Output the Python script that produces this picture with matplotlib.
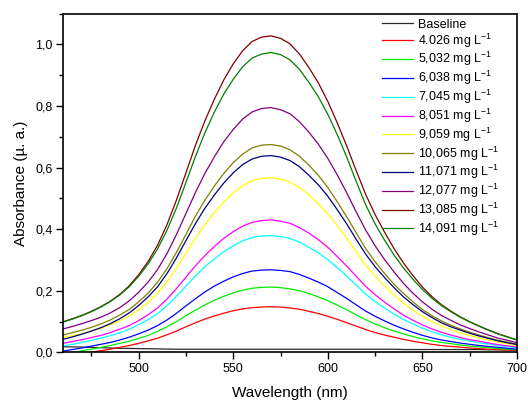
import matplotlib
matplotlib.use('Agg')
import matplotlib.pyplot as plt
from matplotlib.ticker import MultipleLocator, FuncFormatter

plt.rcParams['font.family'] = ['Liberation Sans', 'DejaVu Sans']
plt.rcParams['mathtext.fontset'] = 'custom'
plt.rcParams['mathtext.rm'] = 'Liberation Sans'
plt.rcParams['mathtext.it'] = 'Liberation Sans:italic'
plt.rcParams['mathtext.bf'] = 'Liberation Sans:bold'

wavelength = list(range(460, 705, 5))

baseline = [0.018, 0.0175, 0.017, 0.016, 0.015, 0.014, 0.013, 0.0125, 0.012, 0.0115, 0.011, 0.0105,
            0.010, 0.010, 0.010, 0.010, 0.010, 0.010, 0.010, 0.010, 0.010, 0.010, 0.010, 0.010,
            0.010, 0.010, 0.010, 0.010, 0.010, 0.010, 0.010, 0.010, 0.010, 0.010, 0.010, 0.010,
            0.009, 0.009, 0.009, 0.009, 0.009, 0.009, 0.009, 0.009, 0.009,
            0.008, 0.008, 0.008, 0.008]
c4026 = [-0.012, -0.008, -0.004, 0.001, 0.005, 0.010, 0.016, 0.022, 0.029, 0.037, 0.046, 0.057,
         0.069, 0.083, 0.096, 0.108, 0.118, 0.127, 0.135, 0.141, 0.145, 0.147, 0.148, 0.147,
         0.144, 0.140, 0.133, 0.126, 0.117, 0.107, 0.096, 0.085, 0.074, 0.064, 0.056, 0.049,
         0.042, 0.036, 0.031, 0.026, 0.022, 0.019, 0.017, 0.014, 0.012, 0.010, 0.009, 0.007, 0.006]
c5032 = [-0.006, -0.001, 0.005, 0.010, 0.016, 0.022, 0.029, 0.036, 0.045, 0.055, 0.068, 0.083,
         0.100, 0.119, 0.137, 0.154, 0.169, 0.182, 0.193, 0.202, 0.208, 0.211, 0.212, 0.210,
         0.206, 0.200, 0.191, 0.180, 0.168, 0.153, 0.138, 0.122, 0.106, 0.092, 0.080, 0.069,
         0.060, 0.051, 0.044, 0.037, 0.032, 0.028, 0.024, 0.020, 0.018, 0.015, 0.012, 0.010, 0.008]
c6038 = [0.004, 0.009, 0.014, 0.020, 0.026, 0.032, 0.040, 0.049, 0.060, 0.072, 0.087, 0.105,
         0.127, 0.151, 0.174, 0.196, 0.215, 0.231, 0.245, 0.256, 0.264, 0.267, 0.268, 0.266,
         0.262, 0.253, 0.241, 0.228, 0.213, 0.194, 0.175, 0.154, 0.134, 0.117, 0.102, 0.088,
         0.076, 0.065, 0.055, 0.047, 0.040, 0.035, 0.030, 0.026, 0.022, 0.019, 0.016, 0.013, 0.010]
c7045 = [0.021, 0.026, 0.032, 0.039, 0.046, 0.054, 0.063, 0.075, 0.090, 0.106, 0.126, 0.152,
         0.182, 0.215, 0.248, 0.278, 0.303, 0.327, 0.346, 0.362, 0.373, 0.378, 0.379, 0.376,
         0.370, 0.358, 0.341, 0.323, 0.301, 0.275, 0.247, 0.218, 0.189, 0.165, 0.144, 0.124,
         0.107, 0.092, 0.078, 0.067, 0.057, 0.049, 0.042, 0.037, 0.031, 0.027, 0.022, 0.018, 0.015]
c8051 = [0.029, 0.035, 0.041, 0.048, 0.055, 0.064, 0.075, 0.087, 0.103, 0.122, 0.144, 0.173,
         0.207, 0.244, 0.281, 0.314, 0.344, 0.370, 0.392, 0.410, 0.422, 0.428, 0.430, 0.426,
         0.419, 0.405, 0.387, 0.366, 0.341, 0.311, 0.280, 0.247, 0.214, 0.187, 0.163, 0.141,
         0.121, 0.104, 0.089, 0.076, 0.065, 0.056, 0.048, 0.041, 0.036, 0.030, 0.025, 0.021, 0.017]
c9059 = [0.048, 0.054, 0.061, 0.069, 0.078, 0.089, 0.102, 0.118, 0.138, 0.162, 0.192, 0.229,
         0.273, 0.322, 0.371, 0.415, 0.454, 0.489, 0.517, 0.541, 0.558, 0.565, 0.567, 0.563,
         0.553, 0.535, 0.511, 0.483, 0.450, 0.411, 0.370, 0.326, 0.283, 0.247, 0.215, 0.186,
         0.160, 0.137, 0.117, 0.100, 0.086, 0.074, 0.063, 0.055, 0.047, 0.040, 0.033, 0.028, 0.022]
c10065 = [0.056, 0.064, 0.072, 0.081, 0.092, 0.105, 0.121, 0.139, 0.164, 0.192, 0.228, 0.272,
          0.325, 0.383, 0.442, 0.494, 0.540, 0.581, 0.616, 0.644, 0.664, 0.673, 0.675, 0.670,
          0.658, 0.637, 0.608, 0.575, 0.535, 0.489, 0.440, 0.388, 0.337, 0.294, 0.256, 0.221,
          0.191, 0.164, 0.139, 0.119, 0.102, 0.088, 0.076, 0.065, 0.056, 0.047, 0.039, 0.033, 0.026]
c11071 = [0.042, 0.050, 0.059, 0.069, 0.080, 0.093, 0.109, 0.128, 0.152, 0.180, 0.213, 0.256,
          0.307, 0.363, 0.418, 0.468, 0.511, 0.550, 0.583, 0.610, 0.628, 0.637, 0.639, 0.634,
          0.623, 0.603, 0.575, 0.544, 0.507, 0.463, 0.417, 0.367, 0.319, 0.278, 0.243, 0.210,
          0.180, 0.155, 0.132, 0.113, 0.096, 0.083, 0.072, 0.062, 0.053, 0.045, 0.037, 0.031, 0.025]
c12077 = [0.076, 0.084, 0.093, 0.103, 0.114, 0.128, 0.145, 0.167, 0.195, 0.228, 0.269, 0.321,
          0.383, 0.451, 0.519, 0.581, 0.635, 0.684, 0.724, 0.758, 0.781, 0.792, 0.795, 0.788,
          0.775, 0.749, 0.715, 0.676, 0.630, 0.576, 0.518, 0.456, 0.397, 0.346, 0.301, 0.261,
          0.224, 0.192, 0.164, 0.140, 0.120, 0.104, 0.089, 0.077, 0.066, 0.056, 0.046, 0.039, 0.031]
c13085 = [0.099, 0.109, 0.120, 0.133, 0.148, 0.166, 0.188, 0.216, 0.252, 0.295, 0.348, 0.415,
          0.495, 0.583, 0.672, 0.752, 0.822, 0.885, 0.937, 0.980, 1.010, 1.024, 1.028, 1.020,
          1.002, 0.969, 0.925, 0.875, 0.815, 0.745, 0.670, 0.590, 0.513, 0.447, 0.390, 0.337,
          0.290, 0.249, 0.212, 0.181, 0.155, 0.134, 0.115, 0.099, 0.085, 0.072, 0.060, 0.050, 0.040]
c14091 = [0.098, 0.108, 0.119, 0.132, 0.147, 0.165, 0.186, 0.213, 0.247, 0.287, 0.336, 0.397,
          0.469, 0.552, 0.636, 0.713, 0.780, 0.839, 0.887, 0.928, 0.956, 0.969, 0.974, 0.967,
          0.950, 0.919, 0.877, 0.830, 0.773, 0.707, 0.634, 0.555, 0.479, 0.417, 0.364, 0.316,
          0.274, 0.237, 0.204, 0.176, 0.152, 0.132, 0.114, 0.099, 0.085, 0.072, 0.060, 0.050, 0.040]

labels = ['Baseline', '4.026 mg L$^{-1}$', '5,032 mg L$^{-1}$', '6,038 mg L$^{-1}$',
          '7,045 mg L$^{-1}$', '8,051 mg L$^{-1}$', '9,059 mg L$^{-1}$', '10,065 mg L$^{-1}$',
          '11,071 mg L$^{-1}$', '12,077 mg L$^{-1}$', '13,085 mg L$^{-1}$', '14,091 mg L$^{-1}$']
series = [baseline, c4026, c5032, c6038, c7045, c8051, c9059, c10065, c11071, c12077, c13085, c14091]
colors = ['#2A2A2A', '#FF0000', '#00EE00', '#0000FF', '#00FFFF', '#FF00FF', '#FFFF00',
          '#808000', '#000080', '#800080', '#800000', '#008000']

fig = plt.figure(figsize=(5.28, 4.0), dpi=100)
ax = fig.add_axes([63/528, 47.7/400, 454/528, 338.6/400])

for y, c, lab in zip(series, colors, labels):
    ax.plot(wavelength, y, color=c, lw=0.9, label=lab)

ax.set_xlim(460, 700)
ax.set_ylim(0, 1.1)
ax.xaxis.set_major_locator(MultipleLocator(50))
ax.xaxis.set_minor_locator(MultipleLocator(25))
ax.yaxis.set_major_locator(MultipleLocator(0.2))
ax.yaxis.set_minor_locator(MultipleLocator(0.1))
ax.yaxis.set_major_formatter(FuncFormatter(lambda v, p: f"{v:.1f}".replace('.', ',')))
ax.tick_params(which='both', direction='out', top=False, right=False, labelsize=9, width=1.0)
ax.tick_params(which='major', length=5, pad=2.5)
ax.tick_params(which='minor', length=3)
for s in ax.spines.values():
    s.set_linewidth(1.2)

ax.set_xlabel('Wavelength (nm)', fontsize=11, labelpad=8)
ax.set_ylabel('Absorbance (µ. a.)', fontsize=11, labelpad=5)

ax.legend(loc='upper left', bbox_to_anchor=(0.702, 0.985), frameon=False, fontsize=9,
          borderpad=0, borderaxespad=0, handlelength=2.5, handletextpad=0.4, labelspacing=0.05)

fig.savefig('out.png', dpi=100)
